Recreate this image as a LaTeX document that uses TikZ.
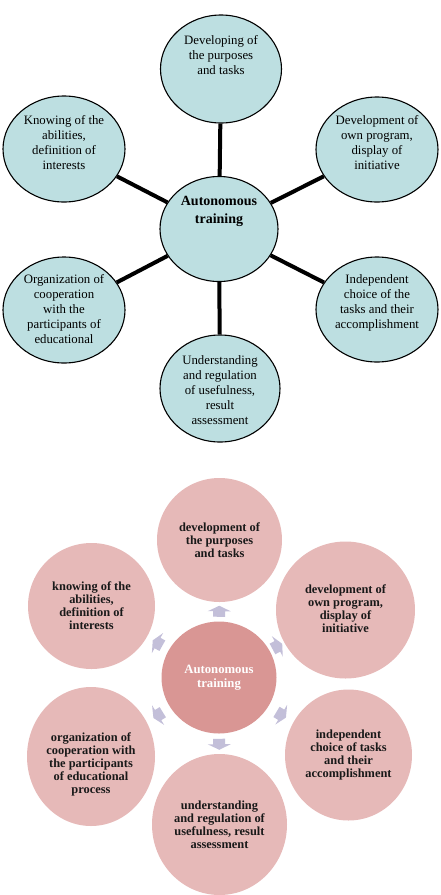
\documentclass[tikz,border=0pt]{standalone}
\usepackage{fontspec}
\setmainfont{Liberation Serif}
\usetikzlibrary{shapes.geometric,calc}
\definecolor{tealfill}{HTML}{BDDFE1}
\definecolor{pinkfill}{HTML}{E6B9B8}
\definecolor{pinkdark}{HTML}{D99694}
\definecolor{arrowcol}{HTML}{C3BFD9}
\tikzset{
  topell/.style={ellipse, draw=black, line width=1.1pt, fill=tealfill, inner sep=0pt},
  toptxt/.style={align=center, font=\fontsize{12.8}{15}\selectfont, inner sep=0pt},
  topbold/.style={align=center, font=\fontsize{14}{18}\selectfont\bfseries, inner sep=0pt},
  conn/.style={line width=4pt, black},
  pinkcirc/.style={ellipse, fill=pinkfill, inner sep=0pt},
  pinktxt/.style={align=center, font=\fontsize{12.4}{13}\selectfont\bfseries, inner sep=0pt, text=black!90},
  blockarrow/.pic={\fill[arrowcol] (-5,-6) -- (0.5,-6) -- (0.5,-11.5) -- (6,0) -- (0.5,11.5) -- (0.5,6) -- (-5,6) -- cycle;},
}
\begin{document}
\begin{tikzpicture}[x=1pt,y=-1pt]
\useasboundingbox (0,0) rectangle (440,895);
% ---------- top diagram ----------
\node[topell, minimum width=118pt, minimum height=105pt] (tc) at (219,229) {};
\node[topell, minimum width=121pt, minimum height=108pt] (t1) at (221,69) {};
\node[topell, minimum width=122pt, minimum height=106pt] (t2) at (64,149) {};
\node[topell, minimum width=122pt, minimum height=105pt] (t3) at (377,149.5) {};
\node[topell, minimum width=122pt, minimum height=106pt] (t4) at (64,310) {};
\node[topell, minimum width=122pt, minimum height=105pt] (t5) at (377,309.5) {};
\node[topell, minimum width=120pt, minimum height=107pt] (t6) at (220,388.5) {};
\foreach \n in {t1,t2,t3,t4,t5,t6} \draw[conn] (tc) -- (\n);
\node[topbold] (tct) at ([yshift=18pt]tc.center) {Autonomous\\training};
\node[toptxt] (t1t) at ([yshift=14pt]t1.center) {Developing of\\the purposes\\and tasks};
\node[toptxt] (t2t) at ([yshift=6.5pt]t2.center) {Knowing of the\\abilities,\\definition of\\interests};
\node[toptxt] (t3t) at ([yshift=7pt]t3.center) {Development of\\own program,\\display of\\initiative};
\node[toptxt] (t4t) at ([yshift=0.5pt]t4.center) {Organization of\\cooperation\\with the\\participants of\\educational};
\node[toptxt] (t5t) at ([yshift=7pt]t5.center) {Independent\\choice of the\\tasks and their\\accomplishment};
\node[toptxt] (t6t) at ([yshift=-1.5pt]t6.center) {Understanding\\and regulation\\of usefulness,\\result\\assessment};
% ---------- bottom diagram ----------
\node[pinkcirc, fill=pinkdark, minimum width=115pt, minimum height=112pt] (bc) at (219,677.5) {};
\node[pinkcirc, minimum width=125pt, minimum height=124pt] (b1) at (219.5,540) {};
\node[pinkcirc, minimum width=127pt, minimum height=126pt] (b2) at (91.5,606) {};
\node[pinkcirc, minimum width=139pt, minimum height=137pt] (b3) at (345.5,610) {};
\node[pinkcirc, minimum width=128pt, minimum height=139pt] (b4) at (91,756.5) {};
\node[pinkcirc, minimum width=127pt, minimum height=131pt] (b5) at (348.5,755) {};
\node[pinkcirc, minimum width=135pt, minimum height=141pt] (b6) at (219.5,824.5) {};
\foreach \n in {b1,b2,b3,b4,b5,b6}
  \path (bc) -- (\n) pic[midway, sloped, allow upside down] {blockarrow};
\node[align=center, font=\fontsize{12.7}{14}\selectfont\bfseries, text=white, inner sep=0pt] (bct) at (bc.center) {Autonomous\\training};
\node[pinktxt] (b1t) at (b1.center) {development of\\the purposes\\and tasks};
\node[pinktxt] (b2t) at (b2.center) {knowing of the\\abilities,\\definition of\\interests};
\node[pinktxt] (b3t) at ([yshift=1pt]b3.center) {development of\\own program,\\display of\\initiative};
\node[pinktxt] (b4t) at ([yshift=-8pt]b4.center) {organization of\\cooperation with\\the participants\\of educational\\process};
\node[pinktxt] (b5t) at (b5.center) {independent\\choice of tasks\\and their\\accomplishment};
\node[pinktxt] (b6t) at (b6.center) {understanding\\and regulation of\\usefulness, result\\assessment};
\end{tikzpicture}
\end{document}
